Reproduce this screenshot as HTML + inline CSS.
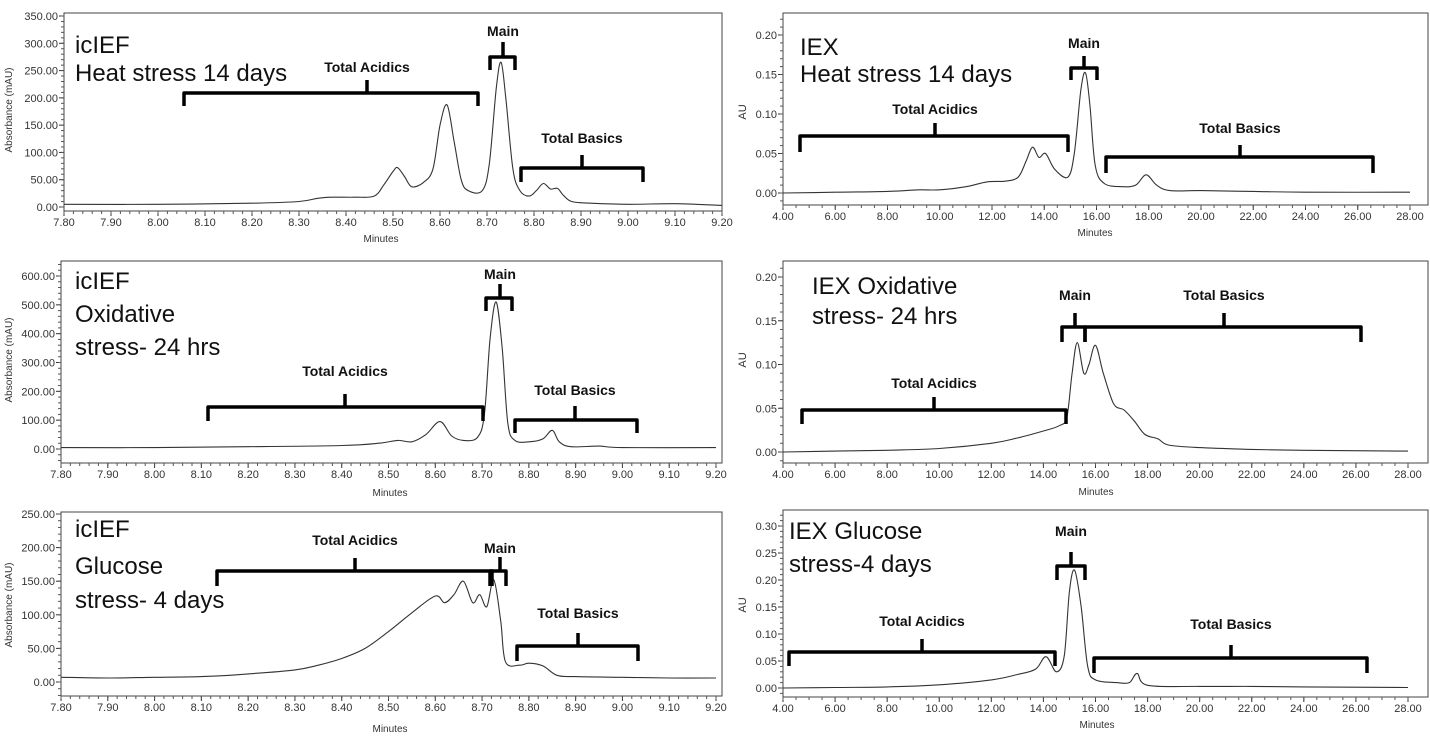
<!DOCTYPE html>
<html><head><meta charset="utf-8">
<style>
html,body{margin:0;padding:0;background:#fff;}
svg{display:block;font-family:"Liberation Sans",Arial,sans-serif;}
.tk{font-size:11px;fill:#333;}
.ttl{font-size:24px;fill:#111;font-family:"Liberation Sans",sans-serif;}
.bl{font-size:14px;font-weight:bold;fill:#111;}
</style></head>
<body>
<svg id="fig" width="1430" height="743" viewBox="0 0 1430 743" xmlns="http://www.w3.org/2000/svg"></svg>
<script>
// ---- data (minutes, signal) ----
const p1T=[7.80,8.00,8.20,8.30,8.34,8.37,8.42,8.46,8.48,8.50,8.51,8.525,8.54,8.565,8.585,8.60,8.615,8.63,8.645,8.66,8.69,8.705,8.72,8.73,8.74,8.755,8.77,8.79,8.805,8.82,8.835,8.85,8.862,8.88,8.92,9.00,9.10,9.20];
const p1V=[5,5,7,10,16,18,18,20,40,65,72,55,37,45,70,150,187,120,50,30,30,80,220,265,200,70,30,20,30,43,33,34,22,10,7,5,6,3];
const p2T=[4,6,8,9.2,10,11,11.8,12.5,13,13.3,13.55,13.8,14.05,14.4,14.9,15.15,15.4,15.58,15.75,15.95,16.3,17.0,17.5,17.9,18.3,18.8,20,22,24,28];
const p2V=[0,0.001,0.002,0.004,0.004,0.008,0.014,0.015,0.02,0.04,0.058,0.045,0.05,0.03,0.02,0.05,0.13,0.152,0.11,0.035,0.012,0.008,0.01,0.023,0.01,0.003,0.003,0.002,0.001,0.001];
const p3T=[7.80,8.00,8.20,8.40,8.48,8.52,8.55,8.58,8.61,8.635,8.66,8.69,8.705,8.717,8.73,8.743,8.755,8.77,8.80,8.83,8.85,8.865,8.89,8.95,9.00,9.20];
const p3V=[5,5,8,12,20,30,25,50,95,45,30,40,120,380,510,350,90,30,25,35,65,25,8,10,5,5];
const p4T=[4,6,8,10,12,13,14,14.6,14.9,15.1,15.3,15.55,15.75,16.0,16.3,16.7,17.1,17.5,17.9,18.4,18.8,20,22,24,28];
const p4V=[0,0.001,0.002,0.004,0.01,0.016,0.024,0.03,0.04,0.09,0.125,0.09,0.1,0.122,0.09,0.055,0.048,0.035,0.02,0.015,0.008,0.005,0.003,0.002,0.001];
const p5T=[7.80,7.90,8.00,8.10,8.20,8.30,8.35,8.40,8.45,8.50,8.55,8.60,8.62,8.64,8.66,8.68,8.695,8.71,8.725,8.74,8.75,8.78,8.80,8.83,8.86,8.90,9.00,9.10,9.20];
const p5V=[7,6,7,8,12,18,25,35,50,75,103,128,118,130,150,118,130,112,152,90,30,25,28,24,10,8,7,6,6];
const p6T=[4,6,8,10,12,13,13.7,14.1,14.5,14.8,15.0,15.2,15.45,15.7,16.0,16.8,17.3,17.6,18.0,20,22,24,28];
const p6V=[0,0.001,0.002,0.006,0.015,0.025,0.035,0.058,0.03,0.06,0.18,0.218,0.15,0.04,0.015,0.01,0.01,0.027,0.005,0.003,0.003,0.002,0.001];
// tick labels
const leftXTicks=["7.80","7.90","8.00","8.10","8.20","8.30","8.40","8.50","8.60","8.70","8.80","8.90","9.00","9.10","9.20"];
const rightXTicks=["4.00","6.00","8.00","10.00","12.00","14.00","16.00","18.00","20.00","22.00","24.00","26.00","28.00"];
const p1Y=[0,50,100,150,200,250,300,350];
const p3Y=[0,100,200,300,400,500,600];
const p5Y=[0,50,100,150,200,250];
const p2Y=[0,0.05,0.10,0.15,0.20];
const p4Y=[0,0.05,0.10,0.15,0.20];
const p6Y=[0,0.05,0.10,0.15,0.20,0.25,0.30];

const NS="http://www.w3.org/2000/svg";
const svg=document.getElementById('fig');
function mk(tag,attrs,parent){const e=document.createElementNS(NS,tag);for(const k in attrs)e.setAttribute(k,attrs[k]);(parent||svg).appendChild(e);return e;}

function panel(cfg){
  const g=mk('g',{});
  
  
  const X=t=>cfg.px0+(t-cfg.t0)/(cfg.t1-cfg.t0)*(cfg.px1-cfg.px0);
  const Y=v=>cfg.py0+(v-0)/(cfg.v1)*(cfg.py1-cfg.py0);
  const fr=mk('path',{d:`M${cfg.ax},${cfg.bot} L${cfg.ax},${cfg.top} L${cfg.right},${cfg.top} L${cfg.right},${cfg.bot} Z`,fill:'none',stroke:'#444','stroke-width':1},g);
  
  
  const xt=cfg.xt;
  xt.forEach(s=>{const t=parseFloat(s);const x=X(t);
    mk('line',{x1:x,y1:cfg.bot,x2:x,y2:cfg.bot+5,stroke:'#333'},g);
    const tx=mk('text',{x:x,y:cfg.bot+15,'text-anchor':'middle',class:'tk'},g);tx.textContent=s;
    
    
  });
  for(let t=cfg.t0;t<=cfg.t1+1e-9;t+=cfg.xminor){const x=X(t);mk('line',{x1:x,y1:cfg.bot,x2:x,y2:cfg.bot+3,stroke:'#555'},g);}
  cfg.yt.forEach(v=>{const y=Y(v);
    mk('line',{x1:cfg.ax-5,y1:y,x2:cfg.ax,y2:y,stroke:'#333'},g);
    const tx=mk('text',{x:cfg.ax-6,y:y+4,'text-anchor':'end',class:'tk'},g);tx.textContent=v.toFixed(2);
    
    
  });
  for(let v=cfg.yminor*Math.ceil((cfg.vmin)/cfg.yminor);Y(v)>=cfg.top;v+=cfg.yminor){const y=Y(v);if(y>cfg.bot)continue;mk('line',{x1:cfg.ax-3,y1:y,x2:cfg.ax,y2:y,stroke:'#555'},g);}
  const xl=mk('text',{x:cfg.mx,y:cfg.my,'text-anchor':'middle','font-size':10,fill:'#333'},g);xl.textContent='Minutes';
  
  
  const yl=mk('text',{x:0,y:0,'text-anchor':'middle','font-size':cfg.ytf,fill:'#333',transform:`translate(${cfg.yx},${cfg.yy}) rotate(-90)`},g);yl.textContent=cfg.ytitle;
  
  
  const T=cfg.T,V=cfg.V;const pts=T.map((t,i)=>[X(t),Y(V[i])]);
  let d=`M${pts[0][0]},${pts[0][1]}`;
  for(let i=0;i<pts.length-1;i++){const p0=pts[Math.max(0,i-1)],p1=pts[i],p2=pts[i+1],p3=pts[Math.min(pts.length-1,i+2)];
    const c1=[p1[0]+(p2[0]-p0[0])/6,p1[1]+(p2[1]-p0[1])/6],c2=[p2[0]-(p3[0]-p1[0])/6,p2[1]-(p3[1]-p1[1])/6];
    d+=` C${c1[0].toFixed(1)},${c1[1].toFixed(1)} ${c2[0].toFixed(1)},${c2[1].toFixed(1)} ${p2[0].toFixed(1)},${p2[1].toFixed(1)}`;}
  const cv=mk('path',{d:d,fill:'none',stroke:'#333','stroke-width':1.1},g);
  
  
  cfg.titles.forEach(([s,x,y])=>{const t=mk('text',{x:x,y:y,class:'ttl'},g);t.textContent=s;
    
    });
  cfg.br.forEach(([s,x1,x2,yl2,hb,cx,tt,ly])=>{
    const p=mk('path',{d:`M${x1},${hb} L${x1},${yl2} L${x2},${yl2} L${x2},${hb} M${cx},${yl2} L${cx},${tt}`,fill:'none',stroke:'#000','stroke-width':3.5,'stroke-linejoin':'round'},g);
    
    
    const t=mk('text',{x:cx,y:ly,'text-anchor':'middle',class:'bl'},g);t.textContent=s;
    
    
  });
}

const leftBase={t0:7.8,t1:9.2,xt:leftXTicks,xminor:0.02,right:722,ytitle:'Absorbance (mAU)',ytf:10,yx:12};
const rightBase={t0:4,t1:28,xt:rightXTicks,xminor:0.5,right:1428,ytitle:'AU',ytf:11,yx:746,ax:783,px0:783,px1:1408};

panel(Object.assign({},leftBase,{name:'panel-icief-heat',T:p1T,V:p1V,ax:64,px0:64,px1:722,py0:207,py1:16,v1:350,vmin:-10,yt:p1Y,yminor:10,top:13,bot:211,mx:381,my:242,yy:110,
 titles:[['icIEF',75,53],['Heat stress 14 days',75,81]],
 br:[['Total Acidics',184,478,93,106,367,80,72],['Main',490,515,57,70,503,42,36],['Total Basics',521,643,168,182,582,155,143]]}));
panel(Object.assign({},rightBase,{name:'panel-iex-heat',T:p2T,V:p2V,px1:1410,py0:193,py1:35,v1:0.20,vmin:-0.01,yt:p2Y,yminor:0.01,top:13,bot:205,mx:1095,my:236,yy:112,
 titles:[['IEX',800,55],['Heat stress 14 days',800,82]],
 br:[['Total Acidics',800,1068,136,152,935,123,114],['Main',1071,1097,68,80,1084,56,48],['Total Basics',1106,1373,157,173,1240,145,133]]}));
panel(Object.assign({},leftBase,{name:'panel-icief-oxidative',T:p3T,V:p3V,ax:61,px0:61,px1:716,py0:449,py1:276,v1:600,vmin:-40,yt:p3Y,yminor:20,top:261,bot:463,mx:390,my:496,yy:360,
 titles:[['icIEF',75,289],['Oxidative',75,322],['stress- 24 hrs',75,355]],
 br:[['Total Acidics',208,483,407,421,345,394,376],['Main',486,512,298,311,500,284,279],['Total Basics',515,637,420,433,575,406,395]]}));
panel(Object.assign({},rightBase,{name:'panel-iex-oxidative',T:p4T,V:p4V,py0:452,py1:277,v1:0.20,vmin:-0.01,yt:p4Y,yminor:0.01,top:261,bot:463,mx:1096,my:495,yy:360,
 titles:[['IEX Oxidative',812,294],['stress- 24 hrs',812,324]],
 br:[['Main',1062,1085,327,342,1075,313,300],['Total Basics',1085,1361,327,342,1224,313,300],['Total Acidics',802,1066,410,424,934,397,388]]}));
panel(Object.assign({},leftBase,{name:'panel-icief-glucose',T:p5T,V:p5V,ax:61,px0:61,px1:716,py0:682,py1:514,v1:250,vmin:-20,yt:p5Y,yminor:10,top:512,bot:696,mx:390,my:732,yy:605,
 titles:[['icIEF',75,537],['Glucose',75,574],['stress- 4 days',75,608]],
 br:[['Total Acidics',217,492,571,586,355,558,545],['Main',490,506,571,586,500,557,553],['Total Basics',517,638,646,661,578,633,618]]}));
panel(Object.assign({},rightBase,{name:'panel-iex-glucose',T:p6T,V:p6V,py0:688,py1:526,v1:0.30,vmin:-0.01,yt:p6Y,yminor:0.01,top:510,bot:697,mx:1097,my:728,yy:605,
 titles:[['IEX Glucose',789,539],['stress-4 days',789,572]],
 br:[['Main',1057,1085,566,580,1071,552,536],['Total Acidics',789,1055,652,666,922,639,626],['Total Basics',1094,1367,658,673,1231,645,629]]}));
</script>
</body></html>
